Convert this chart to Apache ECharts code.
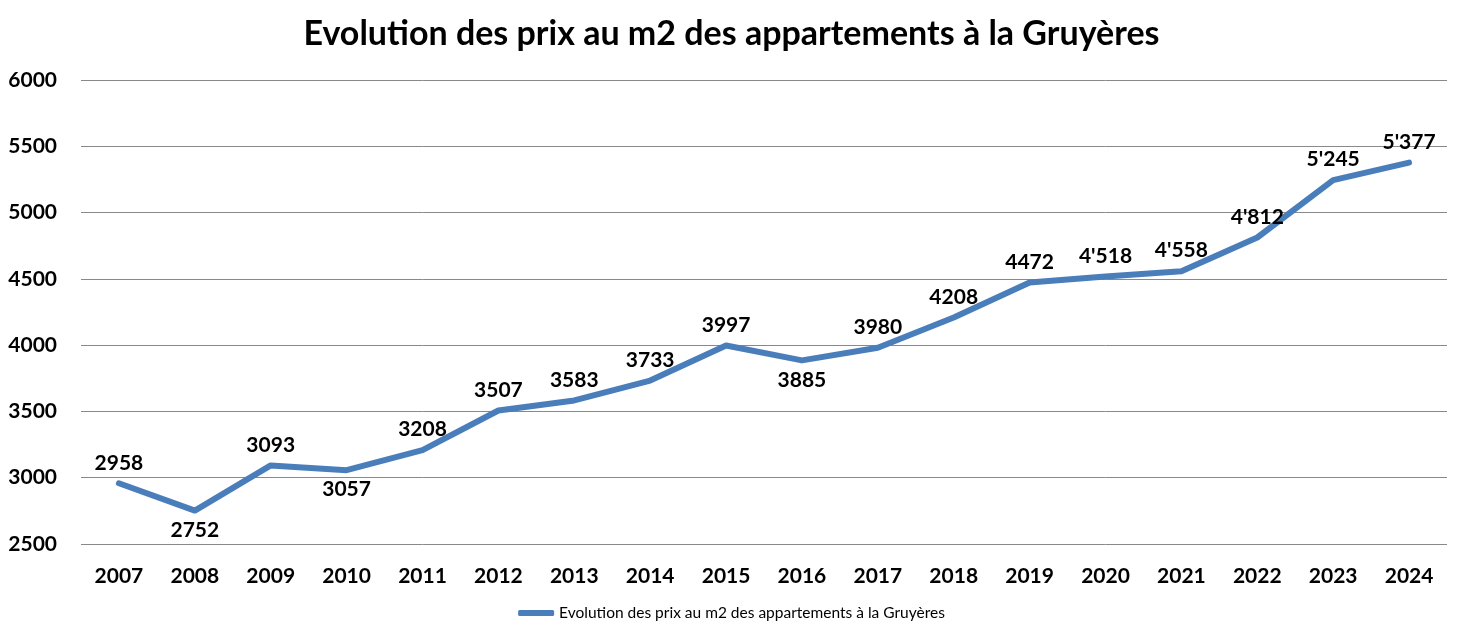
<!DOCTYPE html>
<html><head><meta charset="utf-8">
<script src="https://cdn.jsdelivr.net/npm/echarts@6/dist/echarts.min.js"></script>
<style>html,body{margin:0;padding:0;background:#fff}#c{width:1463px;height:640px}</style>
</head><body><div id="c"></div>
<script>
const titleText = "Evolution des prix au m2 des appartements à la Gruyères";
const years = ["2007","2008","2009","2010","2011","2012","2013","2014","2015","2016","2017","2018","2019","2020","2021","2022","2023","2024"];
const prices = [2958,2752,3093,3057,3208,3507,3583,3733,3997,3885,3980,4208,4472,4518,4558,4812,5245,5377];
const labelTexts = ["2958","2752","3093","3057","3208","3507","3583","3733","3997","3885","3980","4208","4472","4'518","4'558","4'812","5'245","5'377"];
const yTicks = [2500,3000,3500,4000,4500,5000,5500,6000];

const FONT = "Lato, 'Open Sans', sans-serif";
const data = prices.map((v, i) => {
  const prev = i > 0 ? prices[i-1] : Infinity;
  const next = i < prices.length-1 ? prices[i+1] : Infinity;
  const below = v < prev && v < next && i > 0;
  return { value: v, label: { position: below ? 'bottom' : 'top', distance: below ? 9 : 10 } };
});

const chart = echarts.init(document.getElementById('c'));
chart.setOption({
  animation: false,
  title: { text: titleText, left: 'center', top: 12,
    textStyle: { fontFamily: FONT, fontSize: 34, fontWeight: 'bold', color: '#000' } },
  grid: { left: 81, right: 16, top: 80, bottom: 96, containLabel: false },
  legend: { bottom: 14, left: 'center', itemWidth: 36, itemHeight: 6, icon: 'roundRect', itemGap: 2,
    textStyle: { fontFamily: FONT, fontSize: 15.5, color: '#000' } },
  xAxis: { type: 'category', data: years, boundaryGap: true,
    axisLine: { show: false }, axisTick: { show: false },
    axisLabel: { fontFamily: FONT, fontSize: 21, fontWeight: 'bold', color: '#000', margin: 22 } },
  yAxis: { type: 'value', min: yTicks[0], max: yTicks[yTicks.length-1], interval: 500,
    axisLine: { show: false }, axisTick: { show: false },
    splitLine: { lineStyle: { color: '#898989', width: 1 } },
    axisLabel: { fontFamily: FONT, fontSize: 21, fontWeight: 'bold', color: '#000', margin: 24,
      formatter: v => String(v) } },
  series: [{
    name: titleText, type: 'line', data: data, symbol: 'circle', symbolSize: 0, showSymbol: true,
    lineStyle: { color: '#4A7EBB', width: 6, cap: 'round', join: 'round' },
    itemStyle: { color: '#4A7EBB' },
    label: { show: true, fontFamily: FONT, fontSize: 21, fontWeight: 'bold', color: '#000',
      formatter: p => labelTexts[p.dataIndex] }
  }]
});
</script></body></html>
